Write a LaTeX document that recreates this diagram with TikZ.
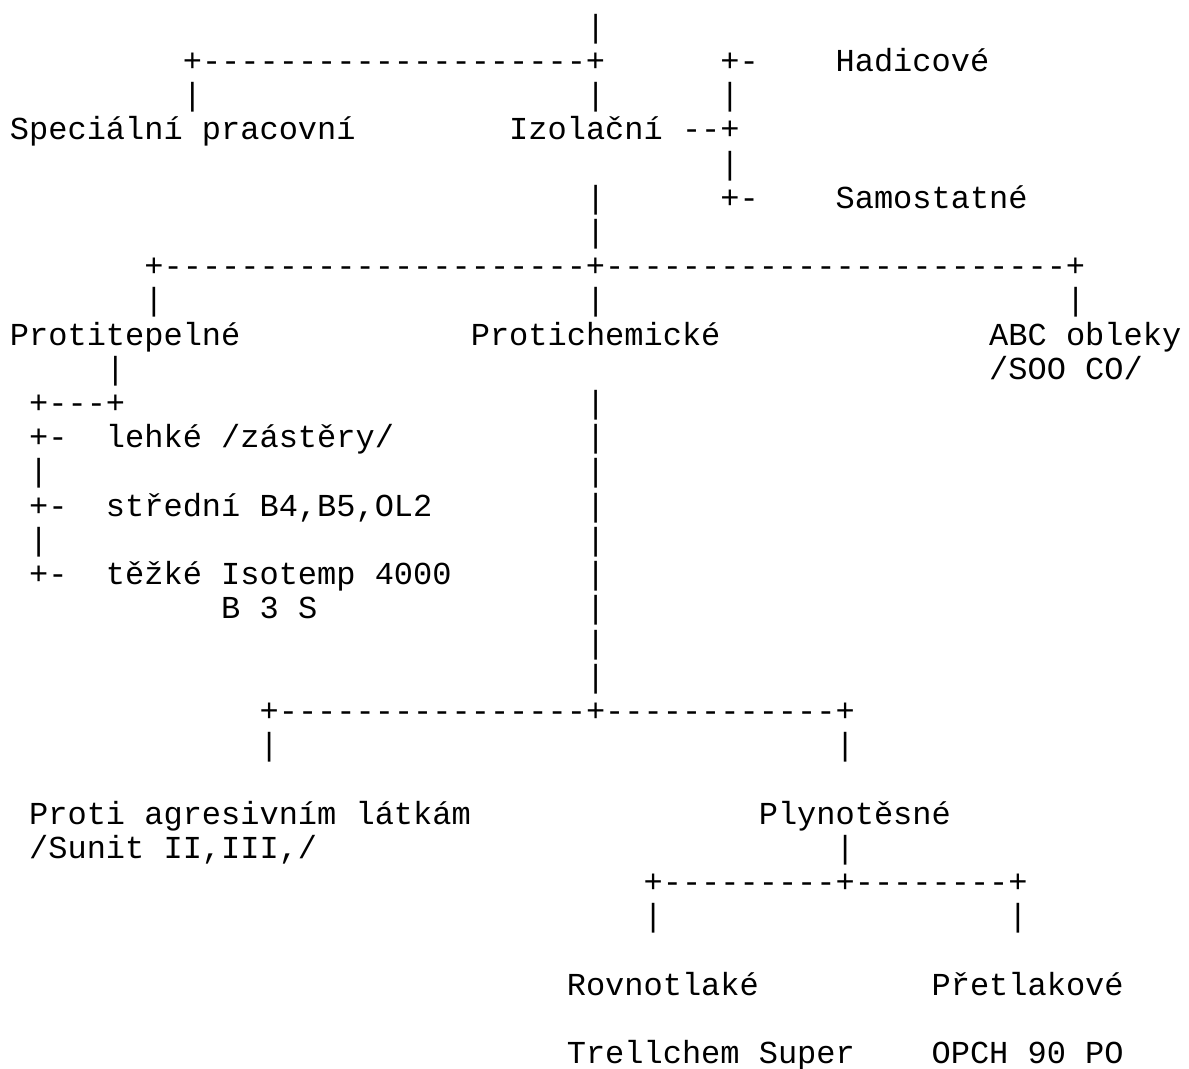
\documentclass[tikz,border=0pt]{standalone}
\usepackage{fontspec}
\setmonofont{Liberation Mono}[Ligatures=TeXOff]
\tikzset{ascii/.style={anchor=base west, inner sep=0pt, outer sep=0pt,
  font=\ttfamily\fontsize{16}{17}\selectfont}}

\begin{document}
\begin{tikzpicture}[x=9.6pt, y=-17.1pt, every node/.style={ascii}]
\useasboundingbox (-0.5208,-1.0936) rectangle (61.406,30.135);

% Izolacni branch
\node (top) at (30,0) {|};
\node (barA) at (9,1) {+--------------------+};
\node (hadTick) at (37,1) {+-};
\node (hadicove) at (43,1) {Hadicové};
\node (specUp) at (9,2) {|};
\node (izolUp) at (30,2) {|};
\node (hadBar) at (37,2) {|};
\node (special) at (0,3) {Speciální pracovní};
\node (izolacni) at (26,3) {Izolační --+};
\node (samBar) at (37,4) {|};
\node (izolDown) at (30,5) {|};
\node (samTick) at (37,5) {+-};
\node (samostatne) at (43,5) {Samostatné};
\node (izolDownB) at (30,6) {|};

% three main groups
\node (barB) at (7,7) {+----------------------+------------------------+};
\node (tepUp) at (7,8) {|};
\node (chemUp) at (30,8) {|};
\node (abcUp) at (55,8) {|};
\node (protitepelne) at (0,9) {Protitepelné};
\node (protichemicke) at (24,9) {Protichemické};
\node (abc) at (51,9) {ABC obleky};
\node (tepDown) at (5,10) {|};
\node (soo) at (51,10) {/SOO CO/};

% Protitepelne
\node (barC) at (1,11) {+---+};
\node (lehTick) at (1,12) {+-};
\node (lehke) at (5,12) {lehké /zástěry/};
\node (tepBarA) at (1,13) {|};
\node (strTick) at (1,14) {+-};
\node (stredni) at (5,14) {střední B4,B5,OL2};
\node (tepBarB) at (1,15) {|};
\node (tezTick) at (1,16) {+-};
\node (tezke) at (5,16) {těžké Isotemp 4000};
\node (b3s) at (11,17) {B 3 S};

% Protichemicke stem
\foreach \r in {11,...,19}
  \node (chem\r) at (30,\r) {|};

\node (barD) at (13,20) {+----------------+------------+};
\node (agrUp) at (13,21) {|};
\node (plyUp) at (43,21) {|};
\node (agresivni) at (1,23) {Proti agresivním látkám};
\node (sunit) at (1,24) {/Sunit II,III,/};
\node (plynotesne) at (39,23) {Plynotěsné};
\node (plyDown) at (43,24) {|};

% Plynotesne
\node (barE) at (33,25) {+---------+--------+};
\node (rovUp) at (33,26) {|};
\node (preUp) at (52,26) {|};
\node (rovnotlake) at (29,28) {Rovnotlaké};
\node (pretlakove) at (48,28) {Přetlakové};
\node (trellchem) at (29,30) {Trellchem Super};
\node (opch) at (48,30) {OPCH 90 PO};

\end{tikzpicture}
\end{document}
